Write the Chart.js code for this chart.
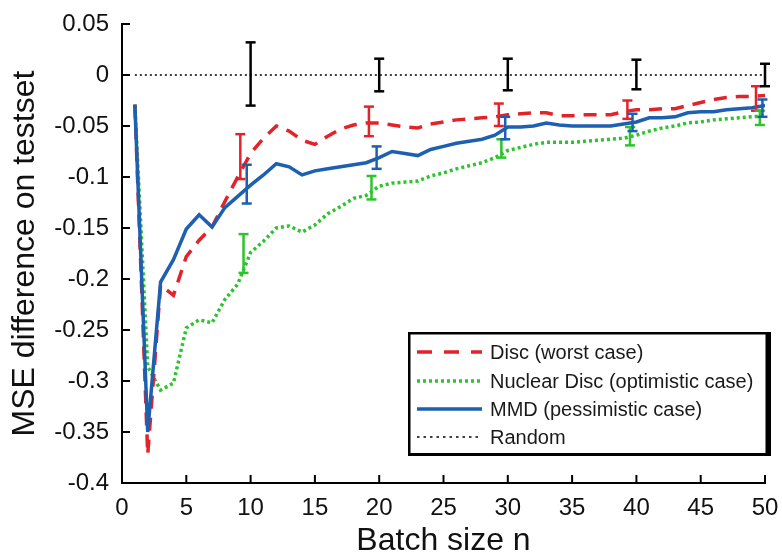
<!DOCTYPE html>
<html>
<head>
<meta charset="utf-8">
<script src="https://cdn.jsdelivr.net/npm/chart.js@4.4.1/dist/chart.umd.min.js"></script>
<style>
  html, body { margin: 0; padding: 0; background: #fff; }
  canvas { display: block; }
</style>
</head>
<body>
<canvas id="msechart" width="782" height="560"></canvas>
<script>
// batch sizes n
const batchSizes = [1, 2, 3, 4, 5, 6, 7, 8, 9, 10, 11, 12, 13, 14, 15, 16, 17, 18, 19, 20,
  21, 22, 23, 24, 25, 26, 27, 28, 29, 30, 31, 32, 33, 34, 35, 36, 37, 38, 39, 40,
  41, 42, 43, 44, 45, 46, 47, 48, 49, 50];

const discWorst = [-0.029, -0.372, -0.206, -0.216, -0.178, -0.162, -0.149, -0.124, -0.100, -0.077,
  -0.062, -0.050, -0.055, -0.064, -0.068, -0.060, -0.053, -0.049, -0.047, -0.047,
  -0.049, -0.051, -0.052, -0.048, -0.046, -0.044, -0.043, -0.042, -0.041, -0.039,
  -0.038, -0.037, -0.037, -0.040, -0.040, -0.039, -0.039, -0.039, -0.036, -0.034,
  -0.034, -0.033, -0.033, -0.030, -0.027, -0.024, -0.022, -0.021, -0.021, -0.020];

const nuclearDisc = [-0.029, -0.286, -0.309, -0.302, -0.248, -0.240, -0.243, -0.220, -0.205, -0.174,
  -0.163, -0.150, -0.148, -0.154, -0.147, -0.136, -0.129, -0.121, -0.118, -0.109,
  -0.106, -0.105, -0.104, -0.099, -0.096, -0.092, -0.089, -0.086, -0.081, -0.074,
  -0.071, -0.068, -0.066, -0.066, -0.066, -0.065, -0.064, -0.063, -0.062, -0.059,
  -0.055, -0.052, -0.050, -0.047, -0.046, -0.044, -0.043, -0.042, -0.041, -0.040];

const mmdPessimistic = [-0.029, -0.350, -0.203, -0.181, -0.151, -0.137, -0.149, -0.130, -0.119, -0.108,
  -0.098, -0.087, -0.090, -0.098, -0.094, -0.092, -0.090, -0.088, -0.086, -0.081,
  -0.075, -0.077, -0.079, -0.073, -0.070, -0.067, -0.065, -0.063, -0.059, -0.051,
  -0.051, -0.050, -0.047, -0.049, -0.050, -0.050, -0.050, -0.050, -0.048, -0.046,
  -0.042, -0.042, -0.041, -0.037, -0.036, -0.036, -0.034, -0.033, -0.032, -0.030];

const randomBaseline = [0, 0, 0, 0, 0, 0, 0, 0, 0, 0, 0, 0, 0, 0, 0, 0, 0, 0, 0, 0,
  0, 0, 0, 0, 0, 0, 0, 0, 0, 0, 0, 0, 0, 0, 0, 0, 0, 0, 0, 0,
  0, 0, 0, 0, 0, 0, 0, 0, 0, 0];

// error bars: position, lower end, upper end
const discErrN = [9.2, 19.2, 29.3, 39.3, 49.3];
const discErrLo = [-0.102, -0.060, -0.050, -0.043, -0.035];
const discErrHi = [-0.058, -0.031, -0.028, -0.025, -0.011];

const nuclearErrN = [9.45, 19.4, 29.5, 39.5, 49.6];
const nuclearErrLo = [-0.194, -0.122, -0.081, -0.069, -0.049];
const nuclearErrHi = [-0.156, -0.099, -0.063, -0.051, -0.035];

const mmdErrN = [9.7, 19.8, 29.8, 39.7, 49.8];
const mmdErrLo = [-0.126, -0.092, -0.063, -0.055, -0.041];
const mmdErrHi = [-0.088, -0.070, -0.041, -0.038, -0.024];

const randomErrN = [10, 20, 30, 40, 50];
const randomErrLo = [-0.030, -0.016, -0.015, -0.014, -0.011];
const randomErrHi = [0.032, 0.016, 0.016, 0.015, 0.011];

const xTickValues = [0, 5, 10, 15, 20, 25, 30, 35, 40, 45, 50];
const yTickValues = [0.05, 0, -0.05, -0.1, -0.15, -0.2, -0.25, -0.3, -0.35, -0.4];

const RED = "#e3232a";
const GREEN = "#2cc42c";
const BLUE = "#1d5fb0";
const BLACK = "#000000";

Chart.defaults.font.family = "'Liberation Sans', Arial, Helvetica, sans-serif";
Chart.defaults.color = "#111";

function toPoints(values) {
  return batchSizes.map((n, i) => ({ x: n, y: values[i] }));
}

function errBars(ns, lo, hi) {
  const pts = [];
  ns.forEach((n, i) => {
    pts.push({ x: n, y: hi[i] });
    pts.push({ x: n, y: lo[i] });
    pts.push({ x: n, y: null });
  });
  return pts;
}

function errDataset(ns, lo, hi, color) {
  return {
    label: "_err",
    data: errBars(ns, lo, hi),
    borderColor: color,
    borderWidth: 2.5,
    pointStyle: "line",
    pointRadius: 5,
    pointBorderColor: color,
    pointBorderWidth: 2.5,
    spanGaps: false,
    clip: false,
  };
}

const series = [
  { label: "Disc (worst case)", color: RED, width: 3.5, dash: [13, 9] },
  { label: "Nuclear Disc (optimistic case)", color: GREEN, width: 3.5, dash: [3, 3] },
  { label: "MMD (pessimistic case)", color: BLUE, width: 3.5, dash: [] },
  { label: "Random", color: BLACK, width: 1.5, dash: [2, 3] },
];

// draw the ticks on the inside of the axes
const innerTicks = {
  id: "innerTicks",
  afterDatasetsDraw(chart) {
    const { ctx, chartArea, scales } = chart;
    ctx.save();
    ctx.strokeStyle = "#000";
    ctx.lineWidth = 2;
    xTickValues.forEach((v) => {
      const px = scales.x.getPixelForValue(v);
      ctx.beginPath();
      ctx.moveTo(px, chartArea.bottom);
      ctx.lineTo(px, chartArea.bottom - 8);
      ctx.stroke();
    });
    yTickValues.forEach((v) => {
      const py = scales.y.getPixelForValue(v);
      ctx.beginPath();
      ctx.moveTo(chartArea.left, py);
      ctx.lineTo(chartArea.left + 8, py);
      ctx.stroke();
    });
    ctx.restore();
  },
};

// boxed legend in the lower right
const boxLegend = {
  id: "boxLegend",
  afterDraw(chart) {
    const ctx = chart.ctx;
    const x0 = 408, y0 = 332, x1 = 771, y1 = 456;
    ctx.save();
    ctx.fillStyle = "#fff";
    ctx.fillRect(x0, y0, x1 - x0, y1 - y0);
    ctx.fillStyle = "#000";
    ctx.fillRect(x0, y0, x1 - x0, 2.5);
    ctx.fillRect(x0, y0, 2.5, y1 - y0);
    ctx.fillRect(x1 - 5.5, y0, 5.5, y1 - y0);
    ctx.fillRect(x0, y1 - 3, x1 - x0, 3);

    const rows = [352, 381, 409, 437];
    ctx.font = "20px 'Liberation Sans', Arial, sans-serif";
    ctx.textBaseline = "middle";
    series.forEach((s, i) => {
      const y = rows[i];
      ctx.strokeStyle = s.color;
      ctx.lineWidth = s.width;
      ctx.setLineDash(s.label === "Disc (worst case)" ? [15, 12] : s.label === "Random" ? [2.5, 4] : s.dash);
      ctx.beginPath();
      ctx.moveTo(417, y);
      ctx.lineTo(482, y);
      ctx.stroke();
      ctx.setLineDash([]);
      ctx.fillStyle = "#1a1a1a";
      ctx.fillText(s.label, 490, y + 1);
    });
    ctx.restore();
  },
};

const lineSets = [
  { values: mmdPessimistic, s: series[2] },
  { values: discWorst, s: series[0] },
  { values: nuclearDisc, s: series[1] },
  { values: randomBaseline, s: series[3] },
].map(({ values, s }) => ({
  label: s.label,
  data: toPoints(values),
  borderColor: s.color,
  borderWidth: s.width,
  borderDash: s.dash,
  pointRadius: 0,
  tension: 0,
  fill: false,
}));

new Chart(document.getElementById("msechart"), {
  type: "line",
  data: {
    datasets: [
      errDataset(randomErrN, randomErrLo, randomErrHi, BLACK),
      errDataset(mmdErrN, mmdErrLo, mmdErrHi, BLUE),
      errDataset(nuclearErrN, nuclearErrLo, nuclearErrHi, GREEN),
      errDataset(discErrN, discErrLo, discErrHi, RED),
      ...lineSets,
    ],
  },
  options: {
    responsive: false,
    animation: false,
    layout: { padding: { top: 24, right: 17, left: 0, bottom: 0 } },
    plugins: {
      legend: { display: false },
      tooltip: { enabled: false },
    },
    scales: {
      x: {
        type: "linear",
        min: 0,
        max: 50,
        afterBuildTicks: (scale) => {
          scale.ticks = xTickValues.map((v) => ({ value: v }));
        },
        afterFit: (scale) => {
          scale.height = 77;
          scale.paddingLeft = 0;
          scale.paddingRight = 0;
        },
        ticks: {
          font: { size: 24 },
          color: "#111",
          padding: 11,
          maxRotation: 0,
          callback: (v) => String(v),
        },
        grid: { display: false, drawTicks: false },
        border: { display: true, color: "#000", width: 2 },
        title: {
          display: true,
          text: "Batch size n",
          font: { size: 32 },
          color: "#111",
          padding: { top: 0, bottom: 0 },
        },
      },
      y: {
        type: "linear",
        min: -0.4,
        max: 0.05,
        afterBuildTicks: (scale) => {
          scale.ticks = yTickValues.map((v) => ({ value: v }));
        },
        afterFit: (scale) => {
          scale.width = 122;
          scale.paddingTop = 0;
          scale.paddingBottom = 0;
        },
        ticks: {
          font: { size: 24 },
          color: "#111",
          padding: 13,
          callback: (v) => String(v),
        },
        grid: { display: false, drawTicks: false },
        border: { display: true, color: "#000", width: 2 },
        title: {
          display: true,
          text: "MSE difference on testset",
          font: { size: 32 },
          color: "#111",
          padding: { top: 6, bottom: 0 },
        },
      },
    },
  },
  plugins: [innerTicks, boxLegend],
});
</script>
</body>
</html>
